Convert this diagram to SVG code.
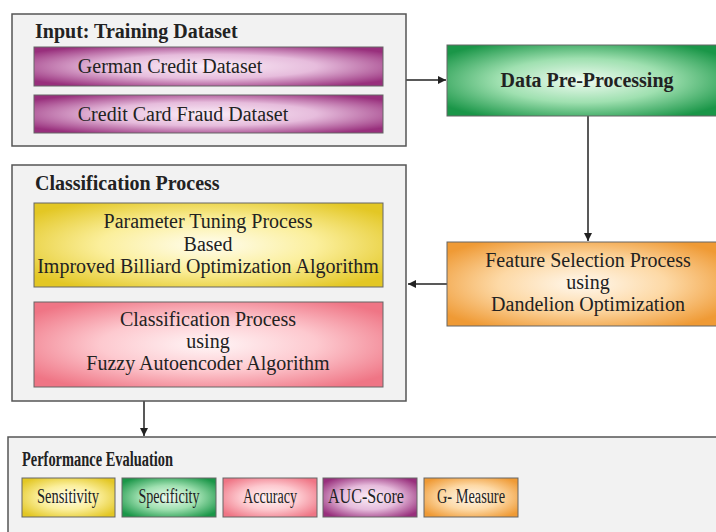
<svg xmlns="http://www.w3.org/2000/svg" width="716" height="532" viewBox="0 0 716 532">
<style>
.cont{fill:#f2f2f2;stroke:#555;stroke-width:1.5}
.box{stroke:#666;stroke-width:1}
text{font-family:"Liberation Serif","Times New Roman",serif;fill:#222}
.t{font-size:20px;text-anchor:middle}
.h{font-size:20px;font-weight:bold}
.hb{font-size:20px;font-weight:bold;text-anchor:middle}
.m{font-size:20px;text-anchor:middle}
.c{fill:none;stroke:#222;stroke-width:1.5}
</style>
<defs>
<radialGradient id="gP" cx="0.5" cy="0.5" r="0.62"><stop offset="0" stop-color="#fbeef8"/><stop offset="0.5" stop-color="#e6bcdc"/><stop offset="1" stop-color="#982f7c"/></radialGradient>
<radialGradient id="gG" cx="0.5" cy="0.5" r="0.62"><stop offset="0" stop-color="#f0fbf2"/><stop offset="0.5" stop-color="#9fe0b0"/><stop offset="1" stop-color="#1a9648"/></radialGradient>
<radialGradient id="gY" cx="0.5" cy="0.5" r="0.62"><stop offset="0" stop-color="#fffdf0"/><stop offset="0.5" stop-color="#fbef9c"/><stop offset="1" stop-color="#e3c724"/></radialGradient>
<radialGradient id="gR" cx="0.5" cy="0.5" r="0.62"><stop offset="0" stop-color="#fff6f7"/><stop offset="0.5" stop-color="#fdc9cf"/><stop offset="1" stop-color="#ef7585"/></radialGradient>
<radialGradient id="gO" cx="0.5" cy="0.5" r="0.62"><stop offset="0" stop-color="#fff8ee"/><stop offset="0.5" stop-color="#fdd9a6"/><stop offset="1" stop-color="#ef9a35"/></radialGradient>
<marker id="ah" viewBox="0 0 10 10" refX="10" refY="5" markerWidth="8" markerHeight="8" markerUnits="userSpaceOnUse" orient="auto"><path d="M0,0 L10,5 L0,10 z" fill="#222"/></marker>
</defs>
<rect width="716" height="532" fill="#fff"/>
<g id="connectors">
<line class="c" x1="406" y1="80" x2="446" y2="80" marker-end="url(#ah)"/>
<line class="c" x1="588" y1="116" x2="588" y2="241" marker-end="url(#ah)"/>
<line class="c" x1="447" y1="284" x2="408" y2="284" marker-end="url(#ah)"/>
<line class="c" x1="144" y1="401" x2="144" y2="436" marker-end="url(#ah)"/>
</g>
<g id="input">
<rect class="cont" x="12" y="14" width="394" height="132"/>
<text class="h" x="35" y="38">Input: Training Dataset</text>
<g id="german"><rect class="box" x="34" y="47" width="349" height="39" fill="url(#gP)"/><text class="t" x="170" y="73">German Credit Dataset</text></g>
<g id="ccfraud"><rect class="box" x="34" y="95" width="349" height="38" fill="url(#gP)"/><text class="t" x="183" y="121">Credit Card Fraud Dataset</text></g>
</g>
<g id="preprocessing"><rect class="box" x="447" y="45" width="270" height="71" fill="url(#gG)"/><text class="hb" x="587" y="87">Data Pre-Processing</text></g>
<g id="featuresel"><rect class="box" x="447" y="242" width="270" height="84" fill="url(#gO)"/>
<text class="t" x="588" y="267">Feature Selection Process</text><text class="t" x="588" y="289">using</text><text class="t" x="588" y="311">Dandelion Optimization</text></g>
<g id="classification">
<rect class="cont" x="12" y="165" width="394" height="236"/>
<text class="h" x="35" y="190">Classification Process</text>
<g id="tuning"><rect class="box" x="34" y="203" width="349" height="84" fill="url(#gY)"/>
<text class="t" x="208" y="228">Parameter Tuning Process</text><text class="t" x="208" y="251">Based</text><text class="t" x="208" y="273">Improved Billiard Optimization Algorithm</text></g>
<g id="fuzzy"><rect class="box" x="34" y="302" width="349" height="85" fill="url(#gR)"/>
<text class="t" x="208" y="326">Classification Process</text><text class="t" x="208" y="348">using</text><text class="t" x="208" y="370">Fuzzy Autoencoder Algorithm</text></g>
</g>
<g id="performance">
<rect class="cont" x="8" y="437" width="720" height="110"/>
<text class="h" x="22" y="466" textLength="151" lengthAdjust="spacingAndGlyphs">Performance Evaluation</text>
<g id="sens"><rect class="box" x="22" y="478" width="93" height="39" fill="url(#gY)"/><text class="m" x="68" y="503" textLength="62" lengthAdjust="spacingAndGlyphs">Sensitivity</text></g>
<g id="spec"><rect class="box" x="122" y="478" width="94" height="39" fill="url(#gG)"/><text class="m" x="169" y="503" textLength="61" lengthAdjust="spacingAndGlyphs">Specificity</text></g>
<g id="acc"><rect class="box" x="223" y="478" width="94" height="39" fill="url(#gR)"/><text class="m" x="270" y="503" textLength="54" lengthAdjust="spacingAndGlyphs">Accuracy</text></g>
<g id="auc"><rect class="box" x="323" y="478" width="94" height="39" fill="url(#gP)"/><text class="m" x="366" y="503" textLength="76" lengthAdjust="spacingAndGlyphs">AUC-Score</text></g>
<g id="gmeasure"><rect class="box" x="424" y="478" width="94" height="39" fill="url(#gO)"/><text class="m" x="471" y="503" textLength="68" lengthAdjust="spacingAndGlyphs">G- Measure</text></g>
</g>
</svg>
